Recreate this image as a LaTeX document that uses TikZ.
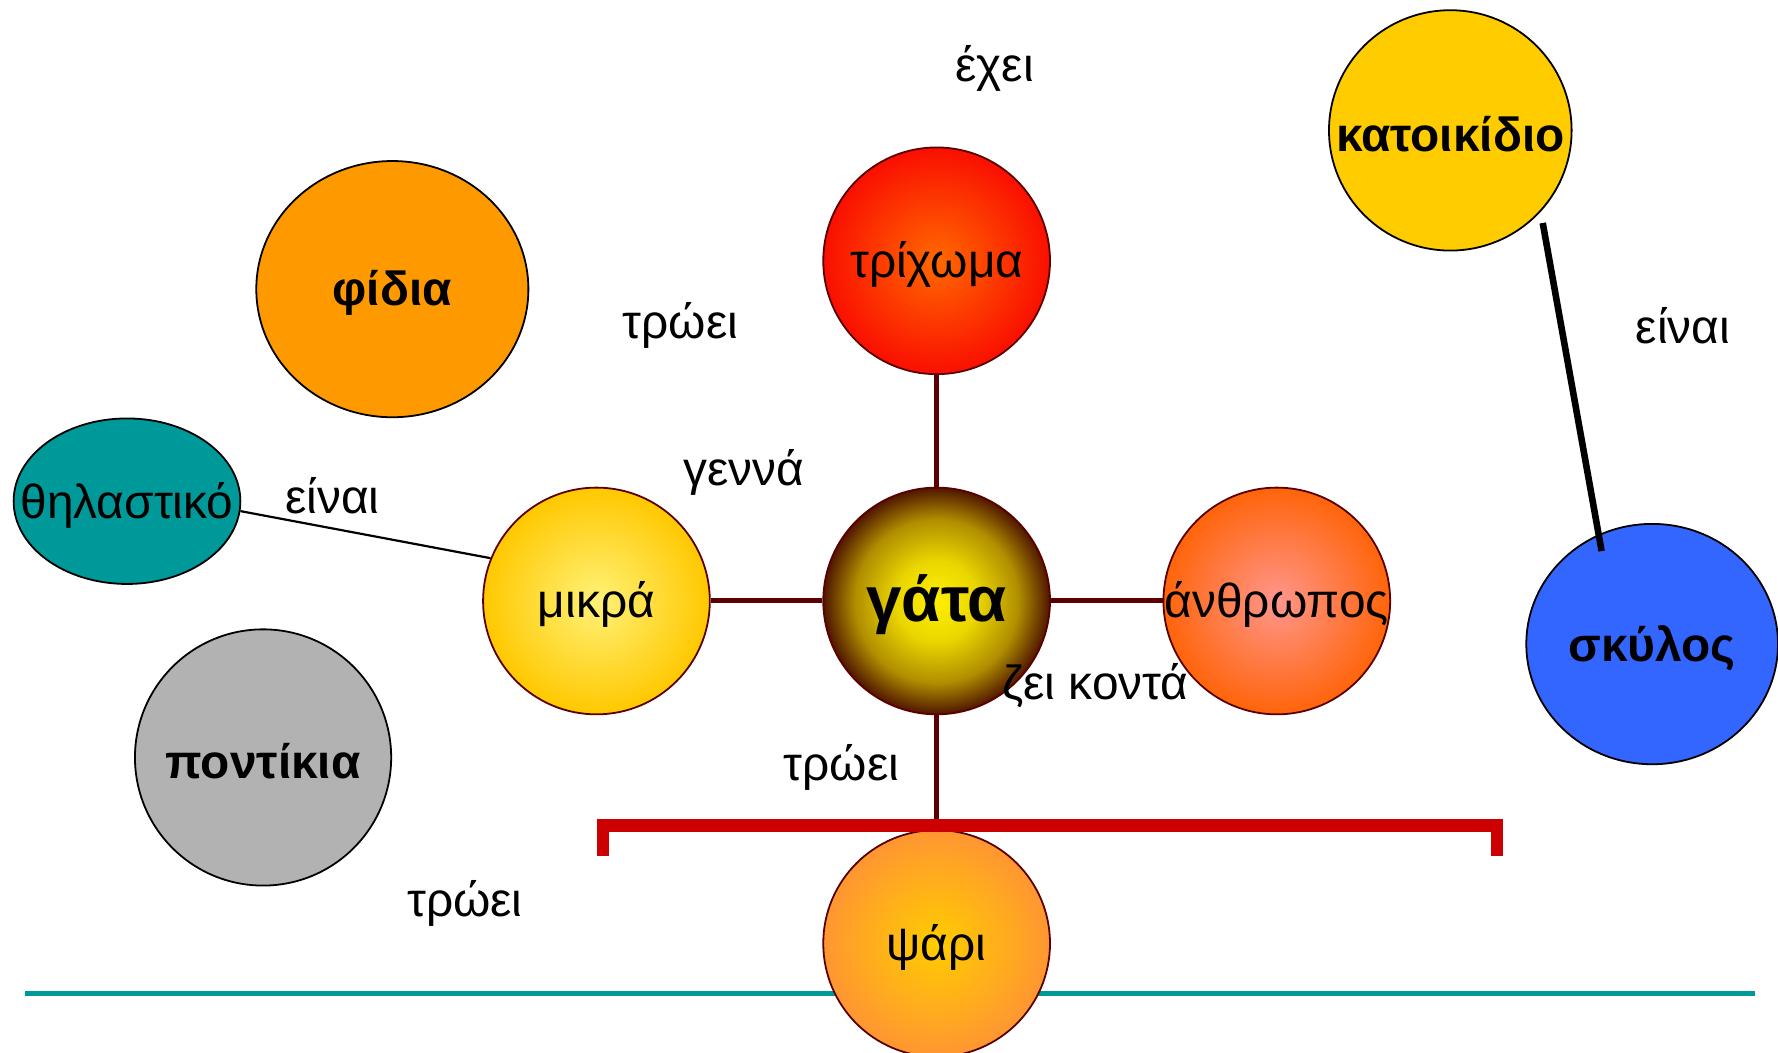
\documentclass[tikz,border=0pt]{standalone}
\usepackage{fontspec}
\setmainfont{Liberation Sans}
\usetikzlibrary{shapes.geometric}
\definecolor{brn}{RGB}{90,0,0}
\definecolor{gy}{RGB}{255,240,0}
\definecolor{gb}{RGB}{80,22,0}
\definecolor{tealc}{RGB}{0,153,153}
\definecolor{redc}{RGB}{204,0,0}
\pgfdeclareradialshading{gatashade}{\pgfpointorigin}{color(0bp)=(gy); color(9bp)=(gy!88!gb); color(18bp)=(gy!55!gb); color(25bp)=(gb); color(50bp)=(gb)}
\newcommand\zb[1]{\makebox[0pt][c]{\raisebox{-0.07cm}[\height][\depth]{#1}}}
\tikzset{
  big/.style={circle, minimum size=4cm, inner sep=0pt, draw=brn, line width=0.9pt, font=\fontsize{24}{28}\selectfont},
  oval/.style={ellipse, inner sep=0pt, draw=black, line width=0.9pt, font=\fontsize{24}{28}\selectfont\bfseries},
  lbl/.style={font=\fontsize{24}{28}\selectfont, inner sep=0pt},
  link/.style={draw=brn, line width=2.5pt},
}
\begin{document}
\begin{tikzpicture}[x=0.02cm,y=-0.02cm]
\useasboundingbox (0,0) rectangle (1568,928);
% teal base line
\coordinate (tl) at (22,876);
\coordinate (tr) at (1548,876);
\draw[draw=tealc, line width=2.3pt] (tl) -- (tr);
% central cluster
\node[big, inner color={rgb,255:red,255;green,105;blue,0}, outer color={rgb,255:red,250;green,15;blue,0}] (trich) at (826,230) {\zb{τρίχωμα}};
\node[big, shading=gatashade, font=\fontsize{32}{36}\selectfont\bfseries] (gata) at (826,530) {\zb{γάτα}};
\node[big, inner color={rgb,255:red,255;green,242;blue,120}, outer color={rgb,255:red,255;green,200;blue,0}] (mikra) at (526,530) {\zb{μικρά}};
\node[big, inner color={rgb,255:red,255;green,150;blue,140}, outer color={rgb,255:red,255;green,100;blue,10}] (anth) at (1126,530) {\zb{άνθρωπος}};
\node[big, inner color={rgb,255:red,255;green,204;blue,0}, outer color={rgb,255:red,255;green,150;blue,50}] (psari) at (826,832) {\zb{ψάρι}};
% bracket
\draw[draw=redc, line width=6.2pt, miter limit=10] (531.5,755) -- (531.5,728) -- (1320,728) -- (1320,755);
\coordinate (brk) at (826,722);
% links
\draw[link] (trich) -- (gata);
\draw[link] (mikra) -- (gata);
\draw[link] (gata) -- (anth);
\draw[link] (gata) -- (brk);
% outer concepts
\node[oval, minimum width=4.8cm, minimum height=4.52cm, fill={rgb,255:red,255;green,153;blue,0}] (fidia) at (346,255) {\zb{φίδια}};
\node[oval, minimum width=4cm, minimum height=2.92cm, fill=tealc, font=\fontsize{24}{28}\selectfont] (thil) at (112,442) {\zb{θηλαστικό}};
\node[oval, minimum width=4.52cm, minimum height=4.52cm, fill={rgb,255:red,178;green,178;blue,178}] (pont) at (232,668) {\zb{ποντίκια}};
\node[oval, minimum width=4.28cm, minimum height=4.24cm, fill={rgb,255:red,255;green,204;blue,0}] (kat) at (1279,115) {\zb{κατοικίδιο}};
\node[oval, minimum width=4.44cm, minimum height=4.24cm, fill={rgb,255:red,51;green,102;blue,255}] (sky) at (1457,568) {\zb{σκύλος}};
\draw[line width=1.1pt] (thil.-5) -- (mikra.158);
\draw[line width=3.3pt, shorten <=0.2cm, shorten >=-0.3cm] (kat.-42) -- (sky.116);
% labels
\node[lbl] (l1) at (877,60) {έχει};
\node[lbl] (l2) at (600,287) {τρώει};
\node[lbl] (l3) at (656,417) {γεννά};
\node[lbl] (l4) at (293,437) {είναι};
\node[lbl] (l5) at (966,605) {ζει κοντά};
\node[lbl] (l6) at (742,677) {τρώει};
\node[lbl] (l7) at (410,797) {τρώει};
\node[lbl] (l8) at (1484,287) {είναι};
\end{tikzpicture}
\end{document}
